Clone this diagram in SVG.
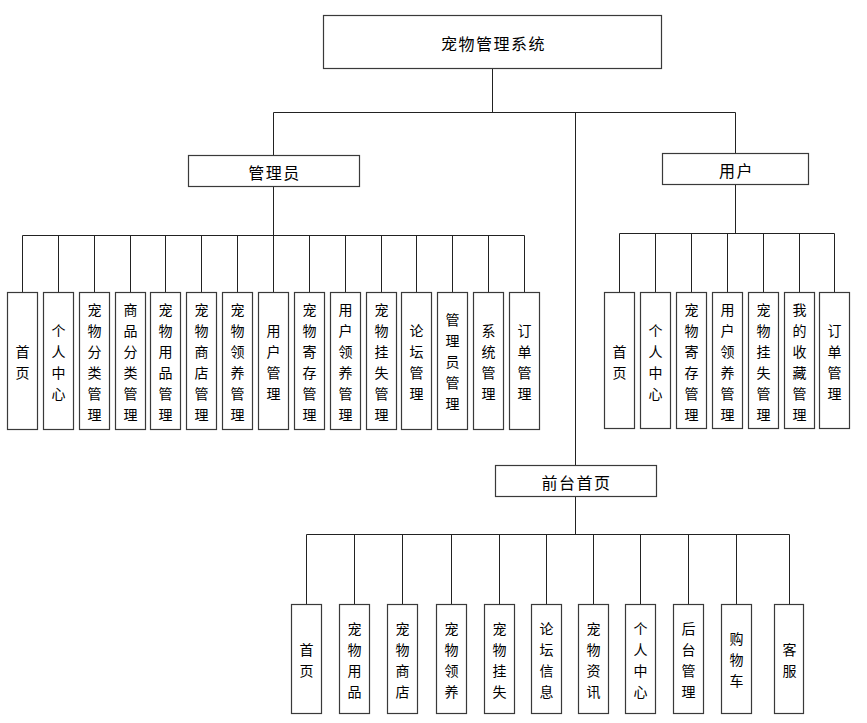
<svg xmlns="http://www.w3.org/2000/svg" width="867" height="723" viewBox="0 0 867 723">
<style>
.bg{fill:#fff}
rect.n{fill:#fff;stroke:#3a3a3a;stroke-width:1.2}
.c{fill:none;stroke:#222;stroke-width:1}
text{font-family:"Noto Sans CJK SC","Noto Sans",sans-serif;fill:#000;text-anchor:middle;dominant-baseline:central}
.h{font-size:16px;letter-spacing:1.5px}
.v{font-size:14px}
</style>
<rect class="bg" x="0" y="0" width="867" height="723"/>
<g transform="translate(0.5,0.5)">
<g id="connectors">
<path class="c" d="M492 68V112M273 112H735M273 112V155M735 112V153M575 112V465"/>
<path class="c" d="M273 186V235M22 235H524M22 235V292M58 235V292M94 235V292M130 235V292M165 235V292M201 235V292M237 235V292M273 235V292M309 235V292M345 235V292M381 235V292M416 235V292M452 235V292M488 235V292M524 235V292"/>
<path class="c" d="M735 184V233M619 233H834M619 233V292M655 233V292M691 233V292M727 233V292M763 233V292M799 233V292M834 233V292"/>
<path class="c" d="M575 496V534M306 534H789M306 534V604M354 534V604M402 534V604M451 534V604M499 534V604M546 534V604M593 534V604M640 534V604M688 534V604M736 534V604M789 534V604"/>
</g>
<g id="root"><rect class="n" x="323" y="15" width="338" height="53"/><text class="h" x="493" y="42">宠物管理系统</text></g>
<g id="admin"><rect class="n" x="188" y="155" width="171" height="31"/><text class="h" x="274" y="171">管理员</text></g>
<g id="user"><rect class="n" x="662" y="153" width="146" height="31"/><text class="h" x="736" y="169">用户</text></g>
<g id="front"><rect class="n" x="495" y="465" width="161" height="31"/><text class="h" x="576" y="481">前台首页</text></g>

<g id="a0"><rect class="n" x="7" y="292" width="30" height="137"/><text class="v"><tspan x="22" y="350">首</tspan><tspan x="22" dy="21">页</tspan></text></g>
<g id="a1"><rect class="n" x="43" y="292" width="30" height="137"/><text class="v"><tspan x="58" y="329">个</tspan><tspan x="58" dy="21">人</tspan><tspan x="58" dy="21">中</tspan><tspan x="58" dy="21">心</tspan></text></g>
<g id="a2"><rect class="n" x="79" y="292" width="30" height="137"/><text class="v"><tspan x="94" y="308">宠</tspan><tspan x="94" dy="21">物</tspan><tspan x="94" dy="21">分</tspan><tspan x="94" dy="21">类</tspan><tspan x="94" dy="21">管</tspan><tspan x="94" dy="21">理</tspan></text></g>
<g id="a3"><rect class="n" x="115" y="292" width="30" height="137"/><text class="v"><tspan x="130" y="308">商</tspan><tspan x="130" dy="21">品</tspan><tspan x="130" dy="21">分</tspan><tspan x="130" dy="21">类</tspan><tspan x="130" dy="21">管</tspan><tspan x="130" dy="21">理</tspan></text></g>
<g id="a4"><rect class="n" x="150" y="292" width="30" height="137"/><text class="v"><tspan x="165" y="308">宠</tspan><tspan x="165" dy="21">物</tspan><tspan x="165" dy="21">用</tspan><tspan x="165" dy="21">品</tspan><tspan x="165" dy="21">管</tspan><tspan x="165" dy="21">理</tspan></text></g>
<g id="a5"><rect class="n" x="186" y="292" width="30" height="137"/><text class="v"><tspan x="201" y="308">宠</tspan><tspan x="201" dy="21">物</tspan><tspan x="201" dy="21">商</tspan><tspan x="201" dy="21">店</tspan><tspan x="201" dy="21">管</tspan><tspan x="201" dy="21">理</tspan></text></g>
<g id="a6"><rect class="n" x="222" y="292" width="30" height="137"/><text class="v"><tspan x="237" y="308">宠</tspan><tspan x="237" dy="21">物</tspan><tspan x="237" dy="21">领</tspan><tspan x="237" dy="21">养</tspan><tspan x="237" dy="21">管</tspan><tspan x="237" dy="21">理</tspan></text></g>
<g id="a7"><rect class="n" x="258" y="292" width="30" height="137"/><text class="v"><tspan x="273" y="329">用</tspan><tspan x="273" dy="21">户</tspan><tspan x="273" dy="21">管</tspan><tspan x="273" dy="21">理</tspan></text></g>
<g id="a8"><rect class="n" x="294" y="292" width="30" height="137"/><text class="v"><tspan x="309" y="308">宠</tspan><tspan x="309" dy="21">物</tspan><tspan x="309" dy="21">寄</tspan><tspan x="309" dy="21">存</tspan><tspan x="309" dy="21">管</tspan><tspan x="309" dy="21">理</tspan></text></g>
<g id="a9"><rect class="n" x="330" y="292" width="30" height="137"/><text class="v"><tspan x="345" y="308">用</tspan><tspan x="345" dy="21">户</tspan><tspan x="345" dy="21">领</tspan><tspan x="345" dy="21">养</tspan><tspan x="345" dy="21">管</tspan><tspan x="345" dy="21">理</tspan></text></g>
<g id="a10"><rect class="n" x="366" y="292" width="30" height="137"/><text class="v"><tspan x="381" y="308">宠</tspan><tspan x="381" dy="21">物</tspan><tspan x="381" dy="21">挂</tspan><tspan x="381" dy="21">失</tspan><tspan x="381" dy="21">管</tspan><tspan x="381" dy="21">理</tspan></text></g>
<g id="a11"><rect class="n" x="401" y="292" width="30" height="137"/><text class="v"><tspan x="416" y="329">论</tspan><tspan x="416" dy="21">坛</tspan><tspan x="416" dy="21">管</tspan><tspan x="416" dy="21">理</tspan></text></g>
<g id="a12"><rect class="n" x="437" y="292" width="30" height="137"/><text class="v"><tspan x="452" y="318">管</tspan><tspan x="452" dy="21">理</tspan><tspan x="452" dy="21">员</tspan><tspan x="452" dy="21">管</tspan><tspan x="452" dy="21">理</tspan></text></g>
<g id="a13"><rect class="n" x="473" y="292" width="30" height="137"/><text class="v"><tspan x="488" y="329">系</tspan><tspan x="488" dy="21">统</tspan><tspan x="488" dy="21">管</tspan><tspan x="488" dy="21">理</tspan></text></g>
<g id="a14"><rect class="n" x="509" y="292" width="30" height="137"/><text class="v"><tspan x="524" y="329">订</tspan><tspan x="524" dy="21">单</tspan><tspan x="524" dy="21">管</tspan><tspan x="524" dy="21">理</tspan></text></g>

<g id="u0"><rect class="n" x="604" y="292" width="30" height="136"/><text class="v"><tspan x="619" y="350">首</tspan><tspan x="619" dy="21">页</tspan></text></g>
<g id="u1"><rect class="n" x="640" y="292" width="30" height="136"/><text class="v"><tspan x="655" y="329">个</tspan><tspan x="655" dy="21">人</tspan><tspan x="655" dy="21">中</tspan><tspan x="655" dy="21">心</tspan></text></g>
<g id="u2"><rect class="n" x="676" y="292" width="30" height="136"/><text class="v"><tspan x="691" y="308">宠</tspan><tspan x="691" dy="21">物</tspan><tspan x="691" dy="21">寄</tspan><tspan x="691" dy="21">存</tspan><tspan x="691" dy="21">管</tspan><tspan x="691" dy="21">理</tspan></text></g>
<g id="u3"><rect class="n" x="712" y="292" width="30" height="136"/><text class="v"><tspan x="727" y="308">用</tspan><tspan x="727" dy="21">户</tspan><tspan x="727" dy="21">领</tspan><tspan x="727" dy="21">养</tspan><tspan x="727" dy="21">管</tspan><tspan x="727" dy="21">理</tspan></text></g>
<g id="u4"><rect class="n" x="748" y="292" width="30" height="136"/><text class="v"><tspan x="763" y="308">宠</tspan><tspan x="763" dy="21">物</tspan><tspan x="763" dy="21">挂</tspan><tspan x="763" dy="21">失</tspan><tspan x="763" dy="21">管</tspan><tspan x="763" dy="21">理</tspan></text></g>
<g id="u5"><rect class="n" x="784" y="292" width="30" height="136"/><text class="v"><tspan x="799" y="308">我</tspan><tspan x="799" dy="21">的</tspan><tspan x="799" dy="21">收</tspan><tspan x="799" dy="21">藏</tspan><tspan x="799" dy="21">管</tspan><tspan x="799" dy="21">理</tspan></text></g>
<g id="u6"><rect class="n" x="819" y="292" width="30" height="136"/><text class="v"><tspan x="834" y="329">订</tspan><tspan x="834" dy="21">单</tspan><tspan x="834" dy="21">管</tspan><tspan x="834" dy="21">理</tspan></text></g>

<g id="f0"><rect class="n" x="291" y="604" width="30" height="109"/><text class="v"><tspan x="306" y="648">首</tspan><tspan x="306" dy="21">页</tspan></text></g>
<g id="f1"><rect class="n" x="339" y="604" width="30" height="109"/><text class="v"><tspan x="354" y="627">宠</tspan><tspan x="354" dy="21">物</tspan><tspan x="354" dy="21">用</tspan><tspan x="354" dy="21">品</tspan></text></g>
<g id="f2"><rect class="n" x="387" y="604" width="30" height="109"/><text class="v"><tspan x="402" y="627">宠</tspan><tspan x="402" dy="21">物</tspan><tspan x="402" dy="21">商</tspan><tspan x="402" dy="21">店</tspan></text></g>
<g id="f3"><rect class="n" x="436" y="604" width="30" height="109"/><text class="v"><tspan x="451" y="627">宠</tspan><tspan x="451" dy="21">物</tspan><tspan x="451" dy="21">领</tspan><tspan x="451" dy="21">养</tspan></text></g>
<g id="f4"><rect class="n" x="484" y="604" width="30" height="109"/><text class="v"><tspan x="499" y="627">宠</tspan><tspan x="499" dy="21">物</tspan><tspan x="499" dy="21">挂</tspan><tspan x="499" dy="21">失</tspan></text></g>
<g id="f5"><rect class="n" x="531" y="604" width="30" height="109"/><text class="v"><tspan x="546" y="627">论</tspan><tspan x="546" dy="21">坛</tspan><tspan x="546" dy="21">信</tspan><tspan x="546" dy="21">息</tspan></text></g>
<g id="f6"><rect class="n" x="578" y="604" width="30" height="109"/><text class="v"><tspan x="593" y="627">宠</tspan><tspan x="593" dy="21">物</tspan><tspan x="593" dy="21">资</tspan><tspan x="593" dy="21">讯</tspan></text></g>
<g id="f7"><rect class="n" x="625" y="604" width="30" height="109"/><text class="v"><tspan x="640" y="627">个</tspan><tspan x="640" dy="21">人</tspan><tspan x="640" dy="21">中</tspan><tspan x="640" dy="21">心</tspan></text></g>
<g id="f8"><rect class="n" x="673" y="604" width="30" height="109"/><text class="v"><tspan x="688" y="627">后</tspan><tspan x="688" dy="21">台</tspan><tspan x="688" dy="21">管</tspan><tspan x="688" dy="21">理</tspan></text></g>
<g id="f9"><rect class="n" x="721" y="604" width="30" height="109"/><text class="v"><tspan x="736" y="637">购</tspan><tspan x="736" dy="21">物</tspan><tspan x="736" dy="21">车</tspan></text></g>
<g id="f10"><rect class="n" x="774" y="604" width="29" height="109"/><text class="v"><tspan x="789" y="648">客</tspan><tspan x="789" dy="21">服</tspan></text></g>
</g>
</svg>
